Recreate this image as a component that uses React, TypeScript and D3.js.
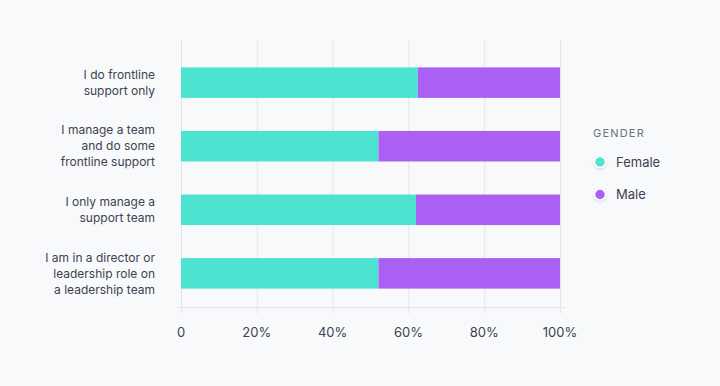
import React from "react";
import * as d3 from "d3";

const categories: string[][] = [
  ["I do frontline", "support only"],
  ["I manage a team", "and do some", "frontline support"],
  ["I only manage a", "support team"],
  ["I am in a director or", "leadership role on", "a leadership team"],
];
const femaleValues = [62.5, 52.1, 62.0, 52.1];
const maleValues = [37.5, 47.9, 38.0, 47.9];
const tickValues = [0, 20, 40, 60, 80, 100];
const seriesNames = ["Female", "Male"];
const seriesColors = ["#4de3d1", "#a960f3"];
const legendTitle = "GENDER";

const W = 720;
const H = 386;
const FONT = "Inter, 'Noto Sans', sans-serif";

export default function App() {
  const x = d3.scaleLinear().domain([0, 100]).range([181, 560]);
  const y = d3
    .scaleBand<number>()
    .domain(d3.range(categories.length))
    .range([51.5, 304.5])
    .paddingInner(0.52)
    .paddingOuter(0.25);
  const gridTop = 40;
  const axisY = 307.5;
  const bw = y.bandwidth();

  return (
    <svg
      width={W}
      height={H}
      style={{ position: "absolute", left: 0, top: 0, background: "#f8f9fa", fontFamily: FONT }}
    >
      <rect x={0} y={0} width={W} height={H} fill="#f8f9fa" />
      {tickValues.map((t) => (
        <line
          key={"g" + t}
          x1={x(t) + 0.5}
          x2={x(t) + 0.5}
          y1={gridTop}
          y2={axisY + 6}
          stroke="#e3e5e8"
          strokeWidth={1}
        />
      ))}
      <line x1={177} x2={565} y1={axisY} y2={axisY} stroke="#e3e5e8" strokeWidth={1} />
      {tickValues.map((t) => (
        <text
          key={"t" + t}
          x={x(t)}
          y={332}
          dy="0.35em"
          textAnchor="middle"
          fontSize={13}
          fill="#3d4350"
        >
          {t === 0 ? "0" : `${t}%`}
        </text>
      ))}
      {categories.map((lines, i) => {
        const y0 = (y(i) as number) + bw / 2;
        const f = femaleValues[i];
        const m = maleValues[i];
        const lh = 16;
        const start = y0 - ((lines.length - 1) * lh) / 2;
        return (
          <g key={"c" + i}>
            <rect x={x(0)} y={y(i)} width={x(f) - x(0)} height={bw} fill={seriesColors[0]} />
            <rect x={x(f)} y={y(i)} width={x(f + m) - x(f)} height={bw} fill={seriesColors[1]} />
            {lines.map((ln, j) => (
              <text
                key={j}
                x={155}
                y={start + j * lh}
                dy="0.35em"
                textAnchor="end"
                fontSize={12}
                fill="#3d4350"
              >
                {ln}
              </text>
            ))}
          </g>
        );
      })}
      <defs>
        <filter id="sh" x="-50%" y="-50%" width="200%" height="200%">
          <feDropShadow dx="0" dy="1" stdDeviation="1" floodColor="#000" floodOpacity="0.2" />
        </filter>
      </defs>
      <text x={593} y={133} dy="0.35em" fontSize={11} letterSpacing={1.2} fill="#6b7280">
        {legendTitle}
      </text>
      {seriesNames.map((s, i) => (
        <g key={s}>
          <circle
            cx={600}
            cy={162 + i * 32.5}
            r={5.5}
            fill={seriesColors[i]}
            stroke="#fff"
            strokeWidth={1.5}
            filter="url(#sh)"
          />
          <text x={616} y={162 + i * 32.5} dy="0.35em" fontSize={13} fill="#3d4350">
            {s}
          </text>
        </g>
      ))}
    </svg>
  );
}
